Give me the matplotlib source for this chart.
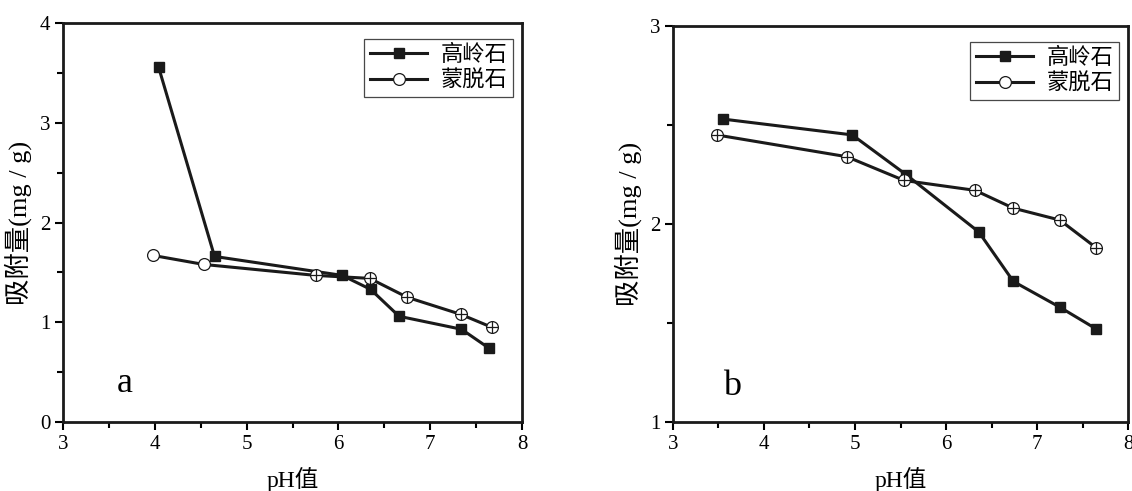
import matplotlib
matplotlib.use('Agg')
import numpy as np
import matplotlib.pyplot as plt
from matplotlib.ticker import MultipleLocator

plt.rcParams['font.family'] = ['Liberation Serif', 'Noto Sans CJK SC']
plt.rcParams['mathtext.fontset'] = 'stix'

# panel a
a_kao_ph = [4.04, 4.65, 6.04, 6.35, 6.66, 7.34, 7.64]
a_kao_q = [3.56, 1.66, 1.47, 1.33, 1.06, 0.93, 0.74]
a_mon_ph = [3.98, 4.53, 5.75, 6.34, 6.75, 7.33, 7.67]
a_mon_q = [1.67, 1.58, 1.47, 1.44, 1.25, 1.08, 0.95]
a_mon_crossed = [False, False, True, True, True, True, True]

# panel b
b_kao_ph = [3.55, 4.97, 5.56, 6.36, 6.74, 7.25, 7.65]
b_kao_q = [2.53, 2.45, 2.25, 1.96, 1.71, 1.58, 1.47]
b_mon_ph = [3.48, 4.91, 5.54, 6.32, 6.74, 7.25, 7.65]
b_mon_q = [2.45, 2.34, 2.22, 2.17, 2.08, 2.02, 1.88]
b_mon_crossed = [True] * 7

labels = ['高岭石', '蒙脱石']

fig = plt.figure(figsize=(11.32, 4.91), dpi=100)
ax_a = fig.add_axes([0.0557, 0.1405, 0.4055, 0.8126])
ax_b = fig.add_axes([0.5945, 0.1405, 0.4020, 0.8065])


def draw(ax, kx, ky, mx, my, crossed, ylim, ymajor, letter, lpos):
    lw = 2.2
    ax.plot(kx, ky, color='#1a1a1a', lw=lw, marker='s', ms=7,
            mfc='#1a1a1a', mec='#1a1a1a', label=labels[0], zorder=3)
    ax.plot(mx, my, color='#1a1a1a', lw=lw, marker='o', ms=8.5,
            mfc='white', mec='#1a1a1a', mew=0.9, label=labels[1], zorder=3)
    cx = [x for x, c in zip(mx, crossed) if c]
    cy = [y for y, c in zip(my, crossed) if c]
    ax.plot(cx, cy, ls='none', marker='+', ms=8.5, mec='#1a1a1a',
            mew=0.9, zorder=4)

    ax.set_xlim(3, 8)
    ax.set_ylim(*ylim)
    ax.xaxis.set_major_locator(MultipleLocator(1))
    ax.xaxis.set_minor_locator(MultipleLocator(0.5))
    ax.yaxis.set_major_locator(MultipleLocator(ymajor))
    ax.yaxis.set_minor_locator(MultipleLocator(ymajor / 2))
    ax.tick_params(which='both', direction='out', top=False, right=False,
                   width=1.5, labelsize=15, pad=3)
    ax.tick_params(which='major', length=6)
    ax.tick_params(which='minor', length=4)
    for s in ax.spines.values():
        s.set_linewidth(2)
        s.set_color('#1a1a1a')

    ax.set_xlabel('pH值', fontsize=17, labelpad=10)
    ax.set_ylabel('吸附量(mg / g)', fontsize=19, labelpad=6)
    ax.text(lpos[0], lpos[1], letter, fontsize=26, ha='center', va='center')

    leg = ax.legend(loc='upper right', bbox_to_anchor=(0.99, 0.97),
                    fontsize=16, handlelength=2.6, frameon=True,
                    fancybox=False, borderpad=0.25, labelspacing=0.2,
                    handletextpad=0.6, borderaxespad=0.2)
    leg.get_frame().set_edgecolor('#1a1a1a')
    leg.get_frame().set_linewidth(0.9)


draw(ax_a, a_kao_ph, a_kao_q, a_mon_ph, a_mon_q, a_mon_crossed,
     (0, 4), 1, 'a', (3.67, 0.39))
draw(ax_b, b_kao_ph, b_kao_q, b_mon_ph, b_mon_q, b_mon_crossed,
     (1, 3), 1, 'b', (3.65, 1.18))

fig.savefig('out.png', dpi=100)
